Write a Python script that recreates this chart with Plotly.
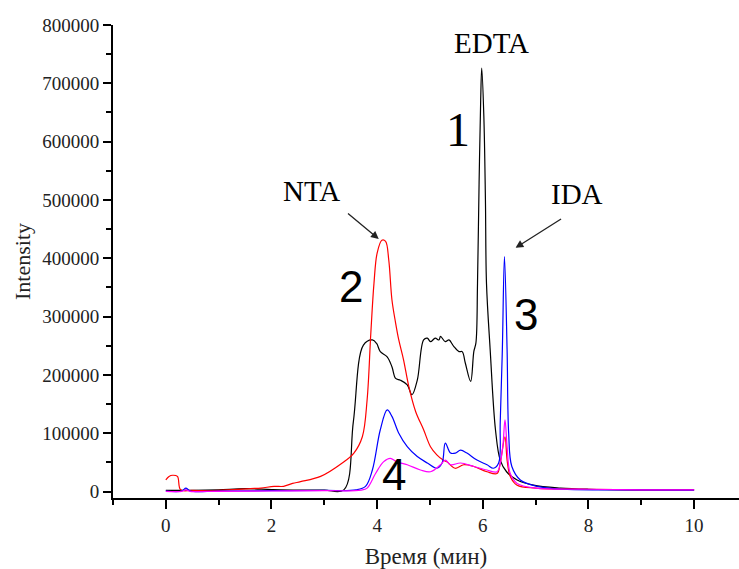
import plotly.graph_objects as go

# Curve 1 (EDTA, black)
t_edta = [0.0, 0.5, 1.0, 1.5, 2.0, 2.5, 3.0, 3.37, 3.55, 3.74, 3.91, 3.99, 4.06, 4.19, 4.28, 4.35, 4.44, 4.57,
          4.66, 4.76, 4.88, 4.95, 5.01, 5.10, 5.17, 5.20, 5.29, 5.36, 5.45, 5.55, 5.61, 5.67, 5.77, 5.83,
          5.87, 5.90, 5.93, 5.96, 5.98, 6.02, 6.05, 6.07, 6.14, 6.24, 6.33, 6.45, 6.65, 6.96, 7.47, 8.0, 9.0, 10.0]
i_edta = [2000, 2000, 3000, 5000, 3500, 2500, 2500, 3000, 120000, 251000, 260000, 254000, 240000, 231000, 214000,
          194000, 191000, 183000, 166000, 191000, 260000, 263000, 257000, 263000, 260000, 266000, 257000, 260000,
          249000, 240000, 240000, 220000, 189000, 240000, 255000, 357000, 529000, 671000, 726000, 643000, 500000,
          357000, 243000, 106000, 54000, 34000, 20000, 11000, 6000, 4000, 3000, 3000]

# Curve 2 (NTA, red)
t_nta = [0.0, 0.06, 0.13, 0.22, 0.28, 0.5, 1.0, 1.6, 1.8, 2.05, 2.23, 2.40, 2.55, 2.93, 3.34, 3.56, 3.72, 3.81,
         3.88, 3.94, 4.00, 4.09, 4.16, 4.22, 4.28, 4.35, 4.41, 4.50, 4.60, 4.73, 4.88, 5.01, 5.13, 5.25, 5.32,
         5.48, 5.64, 5.83, 6.08, 6.27, 6.33, 6.42, 6.46, 6.52, 6.65, 7.0, 8.0, 9.0, 10.0]
i_nta = [20000, 26000, 28000, 26000, 3000, 2000, 2000, 5000, 6000, 9000, 9000, 14000, 17000, 26000, 49000,
         66000, 94000, 157000, 271000, 357000, 409000, 431000, 429000, 397000, 329000, 289000, 260000, 226000,
         180000, 137000, 106000, 77000, 63000, 54000, 51000, 40000, 46000, 43000, 34000, 31000, 49000, 94000,
         54000, 26000, 11000, 6000, 4000, 3000, 3000]

# Curve 3 (IDA, blue)
t_ida = [0.0, 0.3, 0.38, 0.46, 1.0, 2.0, 3.0, 3.6, 3.78, 3.91, 4.06, 4.19, 4.28, 4.41, 4.57, 4.76, 4.95, 5.13,
         5.23, 5.29, 5.39, 5.48, 5.58, 5.70, 5.89, 6.08, 6.20, 6.30, 6.33, 6.37, 6.41, 6.46, 6.49, 6.55, 6.71,
         7.03, 7.5, 8.5, 10.0]
i_ida = [1000, 1000, 6000, 1000, 1000, 1500, 2000, 3000, 9000, 37000, 106000, 140000, 129000, 100000, 77000,
         60000, 49000, 40000, 49000, 83000, 66000, 66000, 71000, 66000, 54000, 46000, 40000, 49000, 118000,
         243000, 403000, 243000, 100000, 43000, 20000, 9000, 4000, 3000, 2500]

# Curve 4 (magenta)
t_mag = [0.0, 0.3, 0.38, 0.46, 1.0, 2.0, 3.0, 3.7, 3.81, 3.97, 4.12, 4.25, 4.37, 4.57, 4.82, 5.01, 5.20, 5.29,
         5.39, 5.58, 5.83, 6.08, 6.27, 6.37, 6.42, 6.46, 6.52, 6.65, 7.0, 8.0, 9.0, 10.0]
i_mag = [500, 500, 3000, 500, 500, 1000, 1500, 2500, 6000, 31000, 51000, 57000, 51000, 46000, 37000, 34000,
         46000, 54000, 46000, 49000, 43000, 37000, 34000, 71000, 123000, 77000, 31000, 14000, 6000, 4000,
         3000, 3000]

series = [
    (t_edta, i_edta, "#000000"),
    (t_nta, i_nta, "#ff0000"),
    (t_ida, i_ida, "#0000ff"),
    (t_mag, i_mag, "#ff00ff"),
]

x_ticks = [0, 2, 4, 6, 8, 10]
y_ticks = [0, 100000, 200000, 300000, 400000, 500000, 600000, 700000, 800000]

fig = go.Figure()
for t, v, c in series:
    fig.add_trace(go.Scatter(x=t, y=v, mode="lines", line=dict(color=c, width=1.2),
                             line_shape="spline", showlegend=False))

serif = "Liberation Serif"
sans = "Liberation Sans"

fig.update_layout(
    width=739, height=569,
    margin=dict(l=113, r=0, t=25, b=71),
    paper_bgcolor="white", plot_bgcolor="white",
    font=dict(family=serif, color="#222222"),
    xaxis=dict(range=[-1, 10.85], tickvals=x_ticks, ticks="outside", ticklen=9, tickwidth=2,
               tickcolor="black", showline=True, linecolor="black", linewidth=2, showgrid=False,
               zeroline=False, tickfont=dict(size=19, family=serif), automargin=False,
               minor=dict(dtick=1, tick0=0, ticks="outside", ticklen=5, tickwidth=2, tickcolor="black"),
               title=dict(text="Время (мин)", font=dict(size=23, family=serif), standoff=14)),
    yaxis=dict(range=[-11000, 800000], tickvals=y_ticks, ticks="outside", ticklen=8, tickwidth=2,
               tickcolor="black", showline=True, linecolor="black", linewidth=2, showgrid=False,
               zeroline=False, tickfont=dict(size=19, family=serif), tickformat="d", automargin=False,
               minor=dict(dtick=50000, tick0=0, ticks="outside", ticklen=5, tickwidth=2, tickcolor="black"),
               title=dict(text="Intensity", font=dict(size=22, family=serif), standoff=6)),
)

ann = [
    dict(x=6.17, y=769000, text="EDTA", font=dict(size=29, family=serif, color="black")),
    dict(x=5.54, y=620000, text="1", font=dict(size=48, family=serif, color="black")),
    dict(x=2.76, y=515000, text="NTA", font=dict(size=29, family=serif, color="black")),
    dict(x=3.50, y=351000, text="2", font=dict(size=44, family=sans, color="black")),
    dict(x=7.78, y=511000, text="IDA", font=dict(size=29, family=serif, color="black")),
    dict(x=6.81, y=304000, text="3", font=dict(size=44, family=sans, color="black")),
    dict(x=4.31, y=30000, text="4", font=dict(size=44, family=sans, color="black")),
]
for a in ann:
    fig.add_annotation(showarrow=False, xref="x", yref="y", **a)

fig.add_annotation(x=4.03, y=433000, ax=3.42, ay=479000, axref="x", ayref="y", xref="x", yref="y",
                   text="", showarrow=True, arrowhead=2, arrowsize=1.2, arrowwidth=1.3, arrowcolor="#222222")
fig.add_annotation(x=6.62, y=418000, ax=7.51, ay=469000, axref="x", ayref="y", xref="x", yref="y",
                   text="", showarrow=True, arrowhead=2, arrowsize=1.2, arrowwidth=1.3, arrowcolor="#222222")

fig.write_html("out.html", config={"displayModeBar": False})

# remove the default page margin so the figure sits at the window's top-left corner
with open("out.html", "r", encoding="utf-8") as f:
    html = f.read()
html = html.replace("<head>", "<head><style>html,body{margin:0;padding:0;overflow:hidden;}</style>", 1)
with open("out.html", "w", encoding="utf-8") as f:
    f.write(html)
